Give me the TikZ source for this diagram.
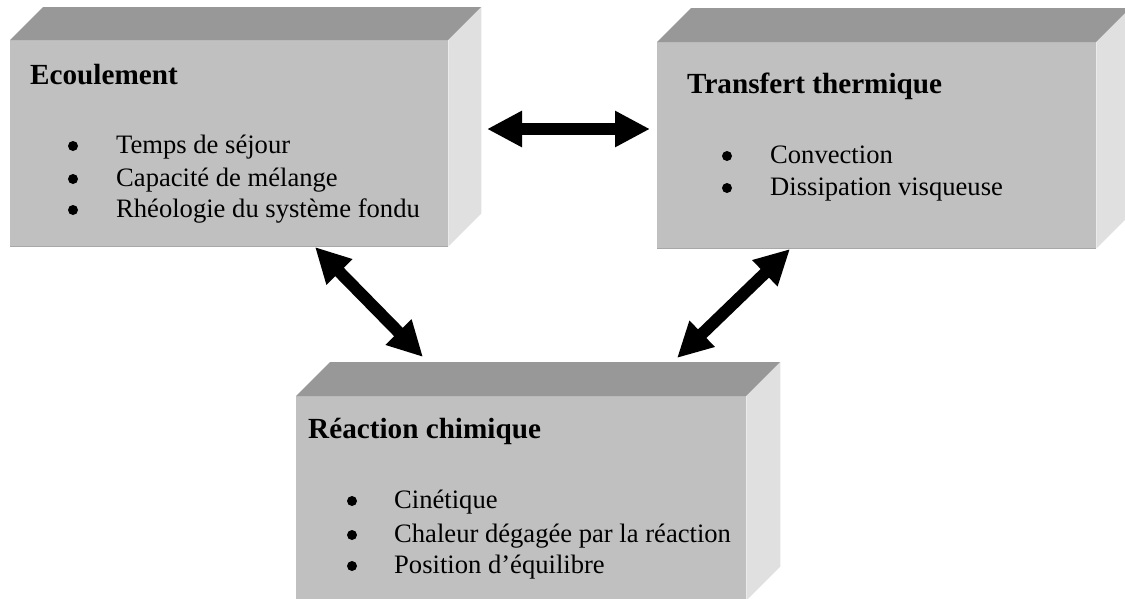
\documentclass[tikz,border=0pt]{standalone}
\usepackage{fontspec}
\setmainfont{Liberation Serif}
\usetikzlibrary{arrows.meta}
\definecolor{frontc}{HTML}{C0C0C0}
\definecolor{topc}{HTML}{989898}
\definecolor{sidec}{HTML}{E0E0E0}
\definecolor{edgec}{HTML}{A8A8A8}
\tikzset{
  frontface/.style={fill=frontc, draw=none, inner sep=0pt, anchor=north west},
  topface/.style={fill=topc},
  sideface/.style={fill=sidec},
  title/.style={anchor=base west, inner sep=0pt, font=\fontsize{29.2}{34}\selectfont\bfseries},
  item/.style={anchor=base west, inner sep=0pt, font=\fontsize{26.6}{31}\selectfont},
  bul/.style={circle, fill=black, inner sep=0pt, minimum size=10pt},
  bigarrow/.style={line width=12pt, {Triangle[length=35pt,width=34pt]}-{Triangle[length=35pt,width=34pt]}}
}
\newcommand{\boxfaces}[2]{%
  \fill[topface] (#1.north west) -- ++(#2,-#2) -- ([shift={(#2pt,#2pt)}]#1.north east) -- (#1.north east) -- cycle;
  \fill[sideface] (#1.north east) -- ([shift={(#2pt,#2pt)}]#1.north east) -- ([shift={(#2pt,#2pt)}]#1.south east) -- (#1.south east) -- cycle;
  \draw[edgec, line width=1pt] (#1.south west) -- (#1.south east);
}
\begin{document}
\begin{tikzpicture}[x=1pt,y=-1pt]
\useasboundingbox (0,0) rectangle (1125,598);
% Boxes
\node[frontface, minimum width=438pt, minimum height=206pt] (eco) at (10,40) {};
\boxfaces{eco}{33}
\node[frontface, minimum width=439pt, minimum height=206pt] (tra) at (657,42) {};
\boxfaces{tra}{34}
\node[frontface, minimum width=450pt, minimum height=204pt] (rea) at (296,396) {};
\boxfaces{rea}{34}
% Texts box 1
\node[title] (t1) at (30,84) {Ecoulement};
\node[bul] (b11) at (73,146) {};
\node[item] (i11) at (116,153) {Temps de séjour};
\node[bul] (b12) at (73,179) {};
\node[item] (i12) at (116,186) {Capacité de mélange};
\node[bul] (b13) at (73,210) {};
\node[item] (i13) at (116,217) {Rhéologie du système fondu};
% Texts box 2
\node[title] (t2) at (687,93) {Transfert thermique};
\node[bul] (b21) at (727,156) {};
\node[item] (i21) at (770,163) {Convection};
\node[bul] (b22) at (727,188) {};
\node[item] (i22) at (770,195) {Dissipation visqueuse};
% Texts box 3
\node[title] (t3) at (308,438) {Réaction chimique};
\node[bul] (b31) at (352,501) {};
\node[item] (i31) at (394,508) {Cinétique};
\node[bul] (b32) at (352,535) {};
\node[item] (i32) at (394,542) {Chaleur dégagée par la réaction};
\node[bul] (b33) at (352,566) {};
\node[item] (i33) at (394,573) {Position d’équilibre};
% Arrows
\coordinate (h1) at (487,129);
\coordinate (h2) at (650,129);
\coordinate (l1) at (315,247);
\coordinate (l2) at (423,357);
\coordinate (r1) at (790,249);
\coordinate (r2) at (677,358);
\draw[bigarrow] (h1) -- (h2);
\draw[bigarrow] (l1) -- (l2);
\draw[bigarrow] (r1) -- (r2);
\end{tikzpicture}
\end{document}
